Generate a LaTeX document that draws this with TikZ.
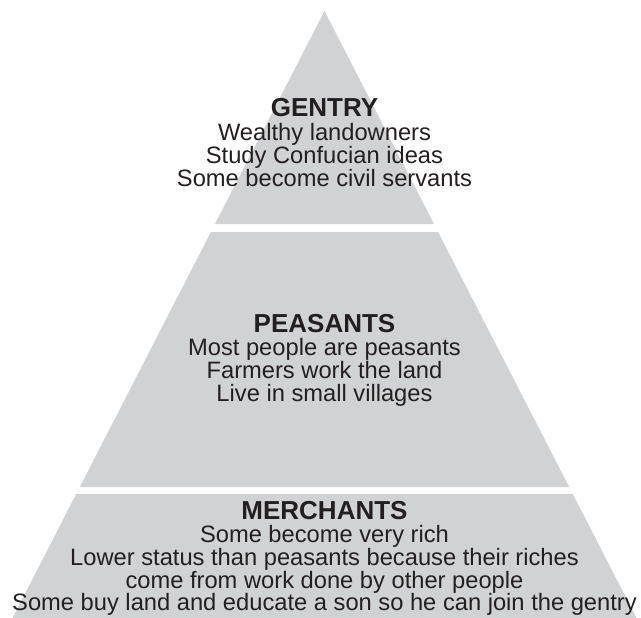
\documentclass[tikz,border=0pt]{standalone}
\usepackage{fontspec}
\setmainfont{Liberation Sans}
\usetikzlibrary{positioning}

\definecolor{tiergray}{RGB}{209,210,212}
\definecolor{inkblack}{RGB}{35,31,32}

\begin{document}
\begin{tikzpicture}[
        x=1pt, y=-1pt,
        tier/.style={fill=tiergray, draw=none},
        title/.style={font=\fontsize{26}{26}\selectfont\bfseries, text=inkblack, inner sep=0pt, anchor=base},
        body/.style={font=\fontsize{23.7}{22.6}\selectfont, text=inkblack, align=center, inner sep=0pt}
    ]
    \useasboundingbox (0,0) rectangle (641,618);

    % Tiers
    \fill[tier] (324.5,11) -- (434.0,224) -- (215.0,224) -- cycle;
    \fill[tier] (210.9,232) -- (438.1,232) -- (569.2,487) -- (79.8,487) -- cycle;
    \fill[tier] (76.2,494) -- (572.8,494) -- (636.5,618) -- (12.5,618) -- cycle;

    % Labels
    \node[title] (gentry) at (324.5,117) {GENTRY};
    \node[body, below=6.5pt of gentry.base] (gentryText) {Wealthy landowners\\Study Confucian ideas\\Some become civil servants};

    \node[title] (peasants) at (324.5,332) {PEASANTS};
    \node[body, below=6.5pt of peasants.base] (peasantsText) {Most people are peasants\\Farmers work the land\\Live in small villages};

    \node[title] (merchants) at (324.5,519) {MERCHANTS};
    \node[body, below=6.5pt of merchants.base] (merchantsText) {Some become very rich\\Lower status than peasants because their riches\\come from work done by other people\\Some buy land and educate a son so he can join the gentry};

\end{tikzpicture}
\end{document}
